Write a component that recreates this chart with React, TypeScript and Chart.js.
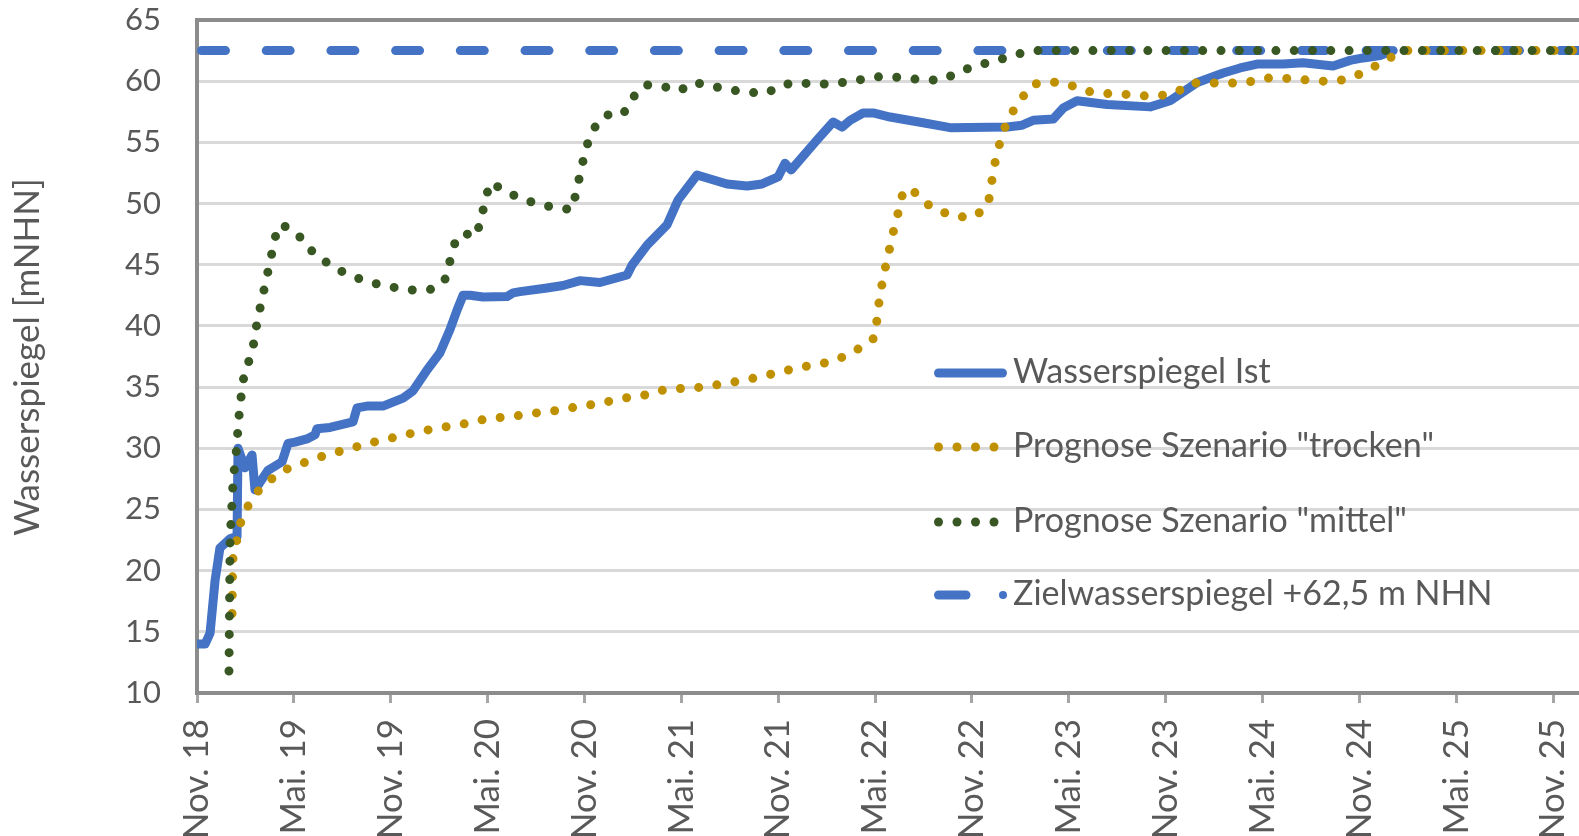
import React, { useEffect, useRef } from 'react';
import { Chart, registerables } from 'chart.js';

Chart.register(...registerables);

// ---- axis data ----
const tickMonths = [0, 6, 12, 18, 24, 30, 36, 42, 48, 54, 60, 66, 72, 78, 84];
const tickLabels = [
  'Nov. 18', 'Mai. 19', 'Nov. 19', 'Mai. 20', 'Nov. 20', 'Mai. 21', 'Nov. 21', 'Mai. 22',
  'Nov. 22', 'Mai. 23', 'Nov. 23', 'Mai. 24', 'Nov. 24', 'Mai. 25', 'Nov. 25',
];
const xMaxMonths = 85.6;
const yMin = 10;
const yMax = 65;
const yStep = 5;
const yTitle = 'Wasserspiegel [mNHN]';

// ---- series (x = months since Nov. 2018) ----
const istMonths = [
  0.0, 0.5, 0.81, 1.12, 1.42, 2.04, 2.48, 2.54, 2.97, 3.41, 3.59, 4.4, 5.27, 5.64, 6.07, 6.81,
  7.31, 7.43, 8.24, 9.66, 9.91, 10.53, 11.52, 12.76, 13.38, 14.25, 15.05, 15.67, 16.11, 16.48,
  16.91, 17.72, 19.2, 19.58, 20.01, 21.68, 22.67, 23.73, 24.96, 26.64, 26.95, 27.88, 29.11,
  29.8, 30.97, 32.83, 34.07, 35.0, 35.99, 36.42, 36.8, 38.41, 39.4, 39.96, 40.45, 41.26, 41.88,
  42.93, 44.97, 46.65, 50.18, 51.11, 51.79, 53.03, 53.65, 54.51, 56.37, 59.04, 60.27, 61.95,
  63.56, 64.61, 65.66, 67.27, 68.51, 70.37, 71.42, 72.23, 73.28, 74.09,
];
const istLevels = [
  14.0, 14.0, 14.9, 19.2, 21.85, 22.6, 22.8, 30.0, 28.4, 29.45, 26.6, 28.2, 28.9, 30.4, 30.5, 30.76,
  31.1, 31.6, 31.7, 32.15, 33.3, 33.45, 33.45, 34.1, 34.7, 36.4, 37.8, 39.7, 41.3, 42.5,
  42.5, 42.36, 42.4, 42.7, 42.8, 43.1, 43.3, 43.7, 43.55, 44.16, 44.98, 46.6, 48.25,
  50.3, 52.33, 51.6, 51.43, 51.6, 52.17, 53.3, 52.74, 55.2, 56.66, 56.25, 56.8, 57.4, 57.4,
  57.07, 56.6, 56.2, 56.26, 56.4, 56.8, 56.9, 57.8, 58.4, 58.1, 57.9, 58.4, 59.9,
  60.67, 61.08, 61.4, 61.4, 61.5, 61.24, 61.7, 61.9, 62.1, 62.5,
];

const trockenMonths = [
  2.17, 2.2, 2.23, 2.48, 2.73, 3.22, 3.9, 4.77, 5.7, 6.81, 7.87, 8.98, 10.1, 11.21, 12.27, 13.38,
  14.5, 15.61, 16.79, 17.9, 19.02, 20.13, 21.31, 22.42, 23.54, 24.65, 25.77, 26.88, 28.0, 29.11,
  30.23, 31.34, 32.52, 33.64, 34.75, 35.86, 36.98, 38.1, 39.21, 40.27, 41.2, 41.94, 42.12, 42.25,
  42.44, 42.68, 42.93, 43.18, 43.49, 43.74, 44.24, 45.04, 45.97, 47.08, 48.2, 49.0, 49.18, 49.37,
  49.62, 49.93, 50.42, 51.04, 51.79, 52.9, 53.96, 55.01, 56.12, 57.3, 58.41, 59.59, 60.7, 61.51,
  62.63, 63.81, 64.92, 66.04, 67.21, 68.33, 69.44, 70.62, 71.73, 72.73, 73.72, 74.71, 75.0, 85.6,
];
const trockenLevels = [
  16.5, 19.5, 21.0, 22.6, 24.05, 25.45, 26.7, 27.65, 28.4, 28.9, 29.4, 29.8, 30.2, 30.6, 30.9, 31.25,
  31.55, 31.8, 32.05, 32.4, 32.55, 32.7, 32.95, 33.1, 33.4, 33.6, 33.9, 34.2, 34.4, 34.85,
  34.9, 35.0, 35.25, 35.5, 35.8, 36.15, 36.5, 36.8, 37.05, 37.6, 38.3, 39.0, 40.5, 42.0,
  43.5, 45.05, 46.5, 48.0, 49.55, 51.0, 51.2, 50.1, 49.4, 48.9, 48.95, 49.9, 51.4, 53.0,
  54.45, 55.9, 57.3, 58.55, 59.75, 59.95, 59.75, 59.2, 59.0, 58.95, 58.8, 58.8, 59.1, 59.85,
  59.85, 59.85, 59.85, 60.25, 60.25, 60.15, 60.0, 60.0, 60.4, 61.05, 61.8, 62.45, 62.5, 62.5,
];

const mittelMonths = [
  1.98, 2.05, 2.11, 2.17, 2.23, 2.35, 2.48, 2.54, 2.66, 2.79, 2.97, 3.41, 3.59, 3.78, 4.03, 4.28,
  4.52, 4.77, 5.02, 5.58, 6.44, 7.19, 8.12, 9.04, 10.16, 11.21, 12.39, 13.5, 14.62, 15.36, 15.67,
  15.98, 16.48, 17.28, 17.59, 17.84, 18.15, 18.89, 19.88, 21.0, 22.05, 23.23, 23.48, 23.73, 23.98,
  24.29, 24.84, 25.52, 26.39, 26.95, 27.75, 28.8, 29.86, 30.79, 31.9, 32.95, 34.13, 35.24, 36.24,
  37.29, 38.34, 39.46, 40.58, 41.63, 42.74, 43.86, 45.03, 46.15, 47.2, 48.26, 49.37, 50.49, 51.6,
  52.0, 85.6,
];
const mittelLevels = [
  11.8, 22.6, 24.1, 25.6, 27.2, 28.8, 30.3, 31.8, 33.4, 34.9, 36.4, 37.7, 39.3, 40.7, 42.2, 43.75,
  45.2, 46.8, 48.2, 48.1, 47.2, 46.0, 45.1, 44.4, 43.8, 43.4, 43.1, 42.9, 43.0, 43.8, 45.3,
  46.8, 47.6, 47.3, 48.7, 50.2, 51.7, 51.2, 50.5, 50.0, 49.7, 49.5, 50.9, 52.4, 53.9,
  55.35, 56.7, 57.3, 57.3, 58.6, 59.7, 59.6, 59.2, 59.9, 59.6, 59.3, 59.1, 59.0, 59.7,
  59.9, 59.7, 59.85, 59.95, 60.3, 60.4, 60.25, 60.1, 60.1, 60.75, 61.3, 61.6, 62.1, 62.45,
  62.5, 62.5,
];

const zielMonths = [0, 85.6];
const zielLevels = [62.5, 62.5];

const seriesNames = [
  'Wasserspiegel Ist',
  'Prognose Szenario "trocken"',
  'Prognose Szenario "mittel"',
  'Zielwasserspiegel +62,5 m NHN',
];

const BLUE = '#4472C4';
const GOLD = '#BF9000';
const GREEN = '#385723';
const TEXT = '#595959';
const FONT = 'Lato';

const toPoints = (xs: number[], ys: number[]) => xs.map((x, i) => ({ x, y: ys[i] }));

const overlayPlugin = {
  id: 'overlay',
  afterDraw(chart: any) {
    const ctx: CanvasRenderingContext2D = chart.ctx;
    ctx.save();
    // y-axis title
    ctx.save();
    ctx.translate(39, 357);
    ctx.rotate(-Math.PI / 2);
    ctx.font = `35px ${FONT}`;
    ctx.fillStyle = TEXT;
    ctx.textAlign = 'center';
    ctx.textBaseline = 'alphabetic';
    ctx.fillText(yTitle, 0, 0);
    ctx.restore();

    // legend
    const textX = 1013;
    const baselines = [383, 457, 532, 605];
    ctx.font = `34px ${FONT}`;
    ctx.textAlign = 'left';
    ctx.textBaseline = 'alphabetic';
    baselines.forEach((b, i) => {
      const sy = b - 10;
      ctx.lineCap = 'round';
      ctx.lineWidth = 9;
      if (i === 0) {
        ctx.strokeStyle = BLUE;
        ctx.beginPath();
        ctx.moveTo(938.5, sy);
        ctx.lineTo(1002.5, sy);
        ctx.stroke();
      } else if (i === 1 || i === 2) {
        ctx.fillStyle = i === 1 ? GOLD : GREEN;
        [938.5, 957, 975.5, 994].forEach((dx) => {
          ctx.beginPath();
          ctx.arc(dx, sy, 4.5, 0, Math.PI * 2);
          ctx.fill();
        });
      } else {
        ctx.strokeStyle = BLUE;
        ctx.beginPath();
        ctx.moveTo(938.5, sy);
        ctx.lineTo(966, sy);
        ctx.stroke();
        ctx.fillStyle = BLUE;
        ctx.beginPath();
        ctx.arc(1003, sy, 4, 0, Math.PI * 2);
        ctx.fill();
      }
      ctx.fillStyle = TEXT;
      ctx.fillText(seriesNames[i], textX, b);
    });
    ctx.restore();
  },
};

export default function App() {
  const ref = useRef<HTMLCanvasElement | null>(null);

  useEffect(() => {
    if (!ref.current) return;
    const chart = new Chart(ref.current, {
      type: 'line',
      data: {
        datasets: [
          {
            label: seriesNames[2],
            data: toPoints(mittelMonths, mittelLevels),
            borderColor: GREEN,
            borderWidth: 9,
            borderDash: [0, 18.3],
            borderCapStyle: 'round',
            pointRadius: 0,
            tension: 0,
            order: 0,
          },
          {
            label: seriesNames[1],
            data: toPoints(trockenMonths, trockenLevels),
            borderColor: GOLD,
            borderWidth: 9,
            borderDash: [0, 18.3],
            borderCapStyle: 'round',
            pointRadius: 0,
            tension: 0,
            order: 1,
          },
          {
            label: seriesNames[3],
            data: toPoints(zielMonths, zielLevels),
            borderColor: BLUE,
            borderWidth: 9,
            borderDash: [24, 40.7],
            borderDashOffset: 60.2,
            borderCapStyle: 'round',
            pointRadius: 0,
            tension: 0,
            order: 2,
          },
          {
            label: seriesNames[0],
            data: toPoints(istMonths, istLevels),
            borderColor: BLUE,
            borderWidth: 9,
            borderCapStyle: 'round',
            borderJoinStyle: 'round',
            pointRadius: 0,
            tension: 0,
            order: 3,
          },
        ] as any,
      },
      options: {
        animation: false,
        responsive: false,
        layout: { padding: { top: 20, left: 0, right: 0, bottom: 0 } },
        plugins: {
          legend: { display: false },
          tooltip: { enabled: false },
          title: { display: false },
        },
        scales: {
          x: {
            type: 'linear',
            min: 0,
            max: xMaxMonths,
            afterBuildTicks: (s: any) => {
              s.ticks = tickMonths.map((v) => ({ value: v }));
            },
            afterFit: (s: any) => {
              s.height = 143;
              s.paddingLeft = 0;
              s.paddingRight = 0;
            },
            ticks: {
              autoSkip: false,
              maxRotation: 90,
              minRotation: 90,
              padding: 16,
              color: TEXT,
              font: { family: FONT, size: 35 },
              callback: (_v: any, i: number) => tickLabels[i],
            },
            grid: {
              drawOnChartArea: false,
              drawTicks: true,
              tickLength: 10,
              color: '#A6A6A6',
              lineWidth: 3,
            },
            border: { display: true, color: '#8C8C8C', width: 4 },
          },
          y: {
            min: yMin,
            max: yMax,
            afterFit: (s: any) => {
              s.width = 197;
              s.paddingTop = 0;
              s.paddingBottom = 0;
            },
            ticks: {
              stepSize: yStep,
              padding: 36,
              color: TEXT,
              font: { family: FONT, size: 31 },
            },
            grid: {
              drawTicks: false,
              color: (c: any) => (c.tick && c.tick.value === yMax ? '#8C8C8C' : '#D9D9D9'),
              lineWidth: (c: any) => (c.tick && c.tick.value === yMax ? 4 : 3),
            },
            border: { display: true, color: '#8C8C8C', width: 4 },
          },
        },
      } as any,
      plugins: [overlayPlugin],
    });
    return () => chart.destroy();
  }, []);

  return (
    <div style={{ position: 'fixed', left: 0, top: 0, width: 1579, height: 836, background: '#fff' }}>
      <canvas ref={ref} width={1579} height={836} style={{ display: 'block' }} />
    </div>
  );
}
